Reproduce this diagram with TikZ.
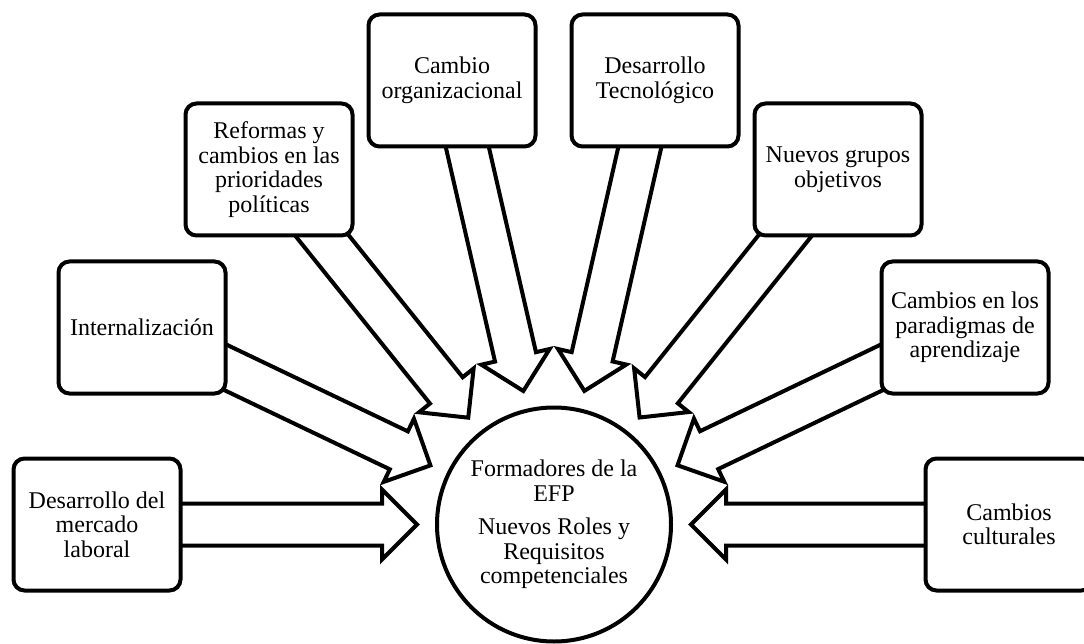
\documentclass[tikz,border=0pt]{standalone}
\usepackage{fontspec}
\setmainfont{Liberation Serif}
\usetikzlibrary{calc,backgrounds}

\tikzset{
  x=1pt, y=-1pt,
  txt/.style={font=\fontsize{24}{24.5}\selectfont},
  factor/.style={txt, draw, line width=4pt, rounded corners=11pt, fill=white,
    minimum width=167pt, minimum height=132pt, align=center, inner sep=0pt},
  hubnode/.style={txt, draw, circle, line width=4pt, fill=white,
    minimum size=234pt, align=center, inner sep=0pt},
  blockarrow/.style={draw, line width=4pt, fill=white, line join=miter},
}

% Block arrow from a factor box towards the central circle
\newcommand{\influence}[1]{%
  \coordinate (#1-tip) at ($(hub.center)!137pt!(#1.center)$);
  \coordinate (#1-base) at ($(#1-tip)!35pt!(#1.center)$);
  \draw[blockarrow]
    ($(#1.center)!21pt!90:(#1-tip)$) --
    ($(#1-base)!21pt!90:(#1-tip)$) --
    ($(#1-base)!35pt!90:(#1-tip)$) --
    (#1-tip) --
    ($(#1-base)!35pt!-90:(#1-tip)$) --
    ($(#1-base)!21pt!-90:(#1-tip)$) --
    ($(#1.center)!21pt!-90:(#1-tip)$) -- cycle;
}

\begin{document}
\begin{tikzpicture}
\useasboundingbox (0,0) rectangle (1084,644);

\node[hubnode] (hub) at (554,524.5)
  {Formadores de la\\EFP\\[9pt]Nuevos Roles y\\Requisitos\\competenciales};

\node[factor] (mercado)    at (97,524.5)  {Desarrollo del\\mercado\\laboral};
\node[factor] (intern)     at (142,327.5) {Internalización};
\node[factor] (reformas)   at (269,169.5) {Reformas y\\cambios en las\\prioridades\\políticas};
\node[factor] (organiz)    at (452,80.5)  {Cambio\\organizacional};
\node[factor] (tecno)      at (655,80.5)  {Desarrollo\\Tecnológico};
\node[factor] (grupos)     at (838,169.5) {Nuevos grupos\\objetivos};
\node[factor] (paradigmas) at (965,327.5) {Cambios en los\\paradigmas de\\aprendizaje};
\node[factor] (culturales) at (1009,524.5) {Cambios\\culturales};

\begin{pgfonlayer}{background}
  \fill[white] (0,0) rectangle (1084,644);
  \influence{mercado}
  \influence{intern}
  \influence{reformas}
  \influence{organiz}
  \influence{tecno}
  \influence{grupos}
  \influence{paradigmas}
  \influence{culturales}
\end{pgfonlayer}
\end{tikzpicture}
\end{document}
